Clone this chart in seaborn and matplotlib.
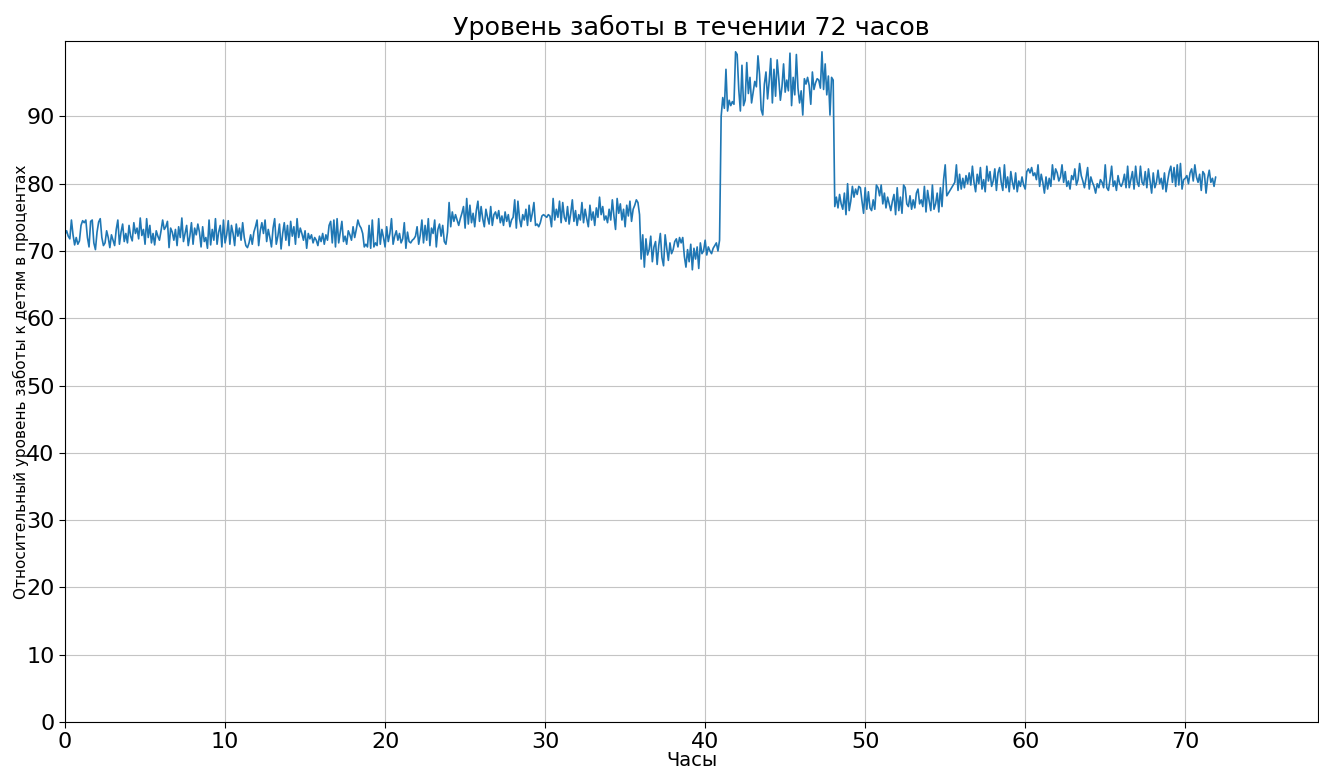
import numpy as np
import pandas as pd
from matplotlib import pyplot as plt
import seaborn as sns

# care level readings, one every 0.1 hour, split by visible phases
care_0_24 = [
    72.5, 73.0, 72.2, 71.8, 74.6, 72.4, 70.9, 72.0, 71.0, 71.5,
    73.8, 74.5, 74.2, 74.6, 72.0, 70.6, 74.4, 74.6, 71.2, 70.2,
    72.8, 74.3, 74.8, 72.0, 70.8, 71.2, 73.0, 72.0, 70.5, 72.4,
    71.6, 70.8, 73.2, 74.6, 71.0, 72.8, 74.0, 71.4, 72.6, 71.2,
    73.8, 72.2, 71.5, 74.2, 72.6, 73.4, 71.8, 74.9, 72.3, 73.2,
    71.0, 74.8, 72.0, 73.8, 71.2, 72.6, 70.9, 73.0, 72.2, 71.6,
    73.0, 74.6, 73.2, 73.6, 74.4, 70.5, 73.4, 72.8, 71.6, 73.2,
    70.8, 73.6, 72.0, 74.9, 71.4, 72.6, 73.8, 70.8, 72.2, 74.2,
    71.0, 73.4, 72.4, 74.0, 72.8, 70.6, 73.6, 71.4, 72.0, 70.4,
    74.6, 70.9, 73.2, 71.6, 74.8, 71.0, 72.8, 73.8, 70.6, 74.6,
    71.2, 72.4, 74.5, 71.0, 73.8, 72.6, 70.8, 74.0, 72.2, 73.4,
    71.6, 74.2, 72.0, 70.8, 70.5, 71.2, 72.4, 71.0, 72.8, 73.6,
    74.6, 70.8, 73.0, 74.2, 72.6, 74.6, 71.4, 73.2, 72.0, 70.6,
    73.4, 74.8, 71.0, 72.2, 74.0, 70.3, 72.6, 74.2, 71.6, 73.8,
    70.8, 74.4, 72.2, 73.6, 71.0, 74.8, 72.0, 73.4, 72.6, 71.6,
    73.0, 70.4, 72.6, 71.8, 72.4, 71.2, 72.0, 71.6, 70.8, 72.2,
    71.4, 72.6, 71.0, 72.4, 71.6, 73.8, 74.4, 71.2, 74.6, 70.6,
    74.8, 71.2, 72.8, 74.4, 71.4, 72.2, 71.0, 73.0, 72.4, 71.6,
    73.6, 72.0, 73.2, 74.6, 73.8, 73.4, 72.6, 70.6, 71.0, 70.6,
    73.8, 70.4, 74.6, 70.6, 71.2, 70.8, 74.8, 71.0, 73.2, 72.0,
    70.6, 73.6, 71.4, 72.6, 74.8, 71.0, 72.2, 73.0, 71.6, 72.6,
    71.2, 71.8, 74.2, 70.4, 72.8, 71.4, 71.2, 71.6, 71.8, 72.2,
    73.6, 71.0, 72.4, 74.6, 71.2, 73.8, 71.6, 74.8, 70.8, 73.4,
    72.6, 74.6, 70.6, 73.2, 74.0, 72.2, 73.8, 71.4, 71.0, 72.8,
]
care_24_36 = [
    77.2, 73.6, 75.8, 74.4, 75.4, 74.6, 73.8, 74.8, 75.6, 76.6,
    73.4, 77.8, 74.0, 76.8, 74.2, 75.6, 73.6, 76.0, 77.4, 74.4,
    76.6, 74.8, 73.6, 76.2, 75.0, 74.0, 76.6, 73.8, 75.4, 75.8,
    74.8, 76.0, 74.2, 75.2, 73.8, 75.8, 74.4, 75.4, 73.6, 74.6,
    75.0, 77.6, 73.4, 77.4, 74.8, 73.6, 75.4, 74.6, 76.2, 73.8,
    76.8, 74.4, 75.6, 77.2, 73.8, 74.0, 73.6, 74.2, 75.2, 75.4,
    75.2, 75.0, 75.4, 75.2, 73.6, 77.8, 74.6, 76.2, 75.0, 77.4,
    74.2, 77.2, 75.0, 74.4, 76.6, 74.0, 75.6, 77.6, 74.4, 76.0,
    73.8, 75.4, 74.6, 77.2, 74.2, 76.2, 74.8, 73.6, 76.8, 74.6,
    75.8, 73.8, 76.4, 75.0, 78.0, 75.4, 76.6, 74.6, 75.2, 74.2,
    76.2, 74.6, 77.6, 75.2, 73.2, 77.8, 75.6, 77.0, 74.6, 76.2,
    73.6, 76.8, 75.2, 77.4, 74.4, 76.2, 76.8, 77.6, 77.2, 75.4,
]
care_36_41 = [
    68.8, 72.4, 67.6, 71.8, 69.4, 70.2, 72.2, 68.4, 70.6, 71.4,
    68.0, 70.8, 72.6, 69.0, 67.8, 72.4, 70.4, 68.6, 71.2, 69.6,
    70.2, 71.4, 71.8, 70.6, 72.0, 71.2, 72.0, 69.2, 67.6, 70.2,
    68.4, 71.0, 67.2, 70.4, 68.8, 70.6, 67.4, 71.2, 69.6, 70.0,
    71.6, 69.4, 70.6, 70.0, 69.6, 70.4, 70.8, 71.2, 70.0, 71.6,
]
care_41_48 = [
    90.0, 92.8, 91.2, 97.0, 90.8, 92.4, 91.6, 92.2, 91.8, 99.6,
    99.2, 94.0, 90.8, 97.6, 91.6, 92.4, 98.0, 93.4, 95.8, 92.0,
    93.6, 95.2, 94.4, 99.0, 96.2, 91.0, 90.2, 94.8, 96.6, 92.6,
    95.2, 98.6, 92.0, 97.0, 93.0, 98.4, 95.6, 92.4, 94.4, 97.8,
    93.6, 95.4, 93.8, 99.4, 91.6, 95.8, 93.2, 99.2, 94.2, 92.0,
    93.8, 90.2, 95.6, 94.8, 95.8, 94.6, 91.8, 96.6, 94.0, 95.0,
    95.6, 95.4, 94.2, 99.6, 94.0, 97.8, 93.2, 96.0, 90.2, 95.8,
    95.4,
]
care_48_55 = [
    76.6, 78.0, 76.4, 78.4, 77.0, 76.2, 78.6, 75.4, 80.0,
    76.0, 77.4, 79.6, 78.0, 79.2, 78.4, 79.6, 79.4, 77.4, 75.6,
    79.4, 76.2, 78.8, 76.4, 76.0, 77.6, 76.2, 79.8, 79.4, 78.2,
    79.8, 77.0, 78.6, 76.4, 78.0, 77.0, 76.0, 77.4, 78.4, 75.4,
    79.4, 76.0, 78.0, 75.6, 79.8, 79.4, 77.0, 76.6, 78.2, 76.2,
    77.6, 76.4, 78.6, 79.2, 77.0, 77.6, 76.6, 79.6, 75.8, 79.0,
    77.4, 76.0, 79.8, 76.2, 77.0, 78.6, 75.8, 79.4, 76.6, 80.6,
    82.8, 78.2, 78.6, 79.0, 79.4, 79.8, 80.2, 82.8, 79.0, 81.4,
]
care_56_72 = [
    79.2, 80.8, 79.4, 81.2, 80.0, 81.6, 79.8, 82.6, 80.2, 78.8,
    81.4, 80.0, 82.4, 79.2, 80.6, 78.8, 82.6, 80.4, 81.8, 79.6,
    80.4, 82.2, 79.0, 81.6, 82.4, 80.2, 79.0, 82.8, 79.4, 81.0,
    78.8, 81.8, 80.2, 79.2, 81.6, 78.8, 80.4, 79.6, 81.0, 79.8,
    79.2, 81.8, 82.2, 81.6, 82.4, 81.2, 81.6, 80.6, 82.8, 79.6,
    81.4, 80.2, 78.6, 81.0, 79.2, 80.8, 79.6, 82.8, 80.6, 82.2,
    81.6, 80.4, 81.0, 82.8, 80.2, 81.8, 79.6, 80.4, 79.2, 81.2,
    80.6, 82.2, 79.8, 80.6, 83.0, 81.2, 80.4, 79.4, 80.8, 82.4,
    79.2, 81.0, 80.2, 79.6, 78.6, 80.0, 79.4, 80.6, 80.2, 79.4,
    82.8, 79.4, 79.0, 80.6, 82.6, 79.6, 80.4, 79.0, 81.2, 80.0,
    79.6, 80.2, 81.4, 79.4, 82.6, 79.4, 80.6, 81.8, 79.2, 82.6,
    80.2, 79.6, 82.6, 80.2, 79.8, 81.8, 79.4, 82.2, 80.4, 78.6,
    81.6, 79.4, 80.2, 82.0, 80.0, 80.8, 79.2, 81.6, 78.8, 80.4,
    81.8, 82.6, 80.2, 82.4, 79.6, 82.8, 79.8, 83.0, 79.2, 80.6,
    80.8, 81.2, 80.0, 81.6, 82.2, 80.4, 82.8, 81.0, 80.2, 81.4,
    79.0, 81.8, 81.4, 78.6, 80.8, 82.0, 80.2, 80.8, 79.6, 81.0,
]

care = care_0_24 + care_24_36 + care_36_41 + care_41_48 + care_48_55 + care_56_72
hours = np.round(np.arange(len(care)) * 0.1, 1)
df = pd.DataFrame({'hours': hours, 'care': care})

sns.set_theme(style='ticks', rc={'axes.grid': True, 'grid.color': '#c4c4c4',
                                 'grid.linewidth': 0.8, 'axes.edgecolor': 'black',
                                 'axes.linewidth': 0.8, 'text.color': 'black',
                                 'axes.labelcolor': 'black'})
plt.rcParams['font.family'] = ['DejaVu Sans']

fig = plt.figure(figsize=(13.19, 7.67), dpi=100)
ax = fig.add_axes([0.0493, 0.0587, 0.9500, 0.8878])

sns.lineplot(x='hours', y='care', data=df, ax=ax, color='#1f77b4', linewidth=1.2)

ax.set_xlim(0, 78.3)
ax.set_ylim(0, 101.2)
ax.set_xticks(range(0, 80, 10))
ax.set_yticks(range(0, 100, 10))
ax.tick_params(axis='both', labelsize=16, colors='black', length=4, width=0.8)

ax.set_title('Уровень заботы в течении 72 часов', fontsize=18.3, pad=4)
ax.set_xlabel('Часы', fontsize=14, labelpad=-1)
ax.set_ylabel('Относительный уровень заботы к детям в процентах', fontsize=11, labelpad=-2)

fig.savefig('out.png', dpi=100)
